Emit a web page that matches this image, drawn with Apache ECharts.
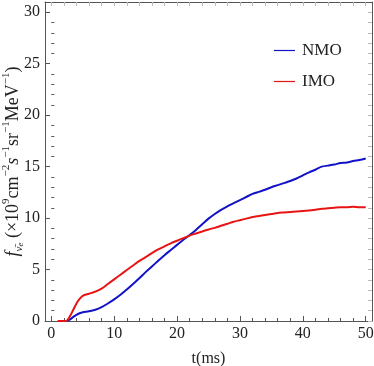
<!DOCTYPE html>
<html>
<head>
<meta charset="utf-8">
<script src="https://cdn.jsdelivr.net/npm/echarts@6/dist/echarts.min.js"></script>
<style>html,body{margin:0;padding:0;background:#fff}#c{width:374px;height:366px}</style>
</head>
<body>
<div id="c"></div>
<script>
var tVals = [1,2,2.5,3,3.5,4,4.5,5,6,7,8,9,10,11,12,13,14,15,16,17,18,19,20,21,22,23,24,25,26,27,28,29,30,31,32,33,34,35,36,37,38,39,40,41,42,43,44,45,46,47,48,49,50];
var nmo = [null,null,0,0.15,0.4,0.6,0.75,0.85,0.95,1.1,1.35,1.7,2.1,2.55,3.05,3.6,4.15,4.75,5.3,5.85,6.4,6.9,7.4,7.9,8.35,8.85,9.4,9.95,10.4,10.8,11.15,11.45,11.75,12.05,12.35,12.55,12.75,13.0,13.2,13.4,13.6,13.85,14.15,14.45,14.7,15.0,15.1,15.2,15.35,15.4,15.55,15.65,15.8];
var imo = [0,0,0.05,0.5,1.1,1.7,2.15,2.45,2.65,2.85,3.15,3.6,4.05,4.5,4.95,5.4,5.85,6.2,6.6,6.95,7.25,7.55,7.8,8.05,8.3,8.5,8.7,8.9,9.05,9.25,9.45,9.65,9.8,9.95,10.1,10.2,10.3,10.4,10.5,10.55,10.6,10.65,10.7,10.75,10.8,10.9,10.95,11.0,11.05,11.05,11.1,11.05,11.05];
var xMajor = [0,10,20,30,40,50];
var xMinor = [2,4,6,8,12,14,16,18,22,24,26,28,32,34,36,38,42,44,46,48];
var yMajor = [0,5,10,15,20,25,30];
var yMinor = [1,2,3,4,6,7,8,9,11,12,13,14,16,17,18,19,21,22,23,24,26,27,28,29];
var seriesNames = ['NMO','IMO'];

var FONT = 'Liberation Serif';
var frame = '#555';
var faint = '#bbb';
function pairs(x, y){ var o=[]; for (var i=0;i<x.length;i++){ if (y[i]!==null) o.push([x[i],y[i]]); } return o; }

function xAx(opts){
  return Object.assign({type:'value',min:-1,max:51,splitLine:{show:false},
    axisLine:{show:false},axisLabel:{show:false},axisTick:{show:false}}, opts);
}
function yAx(opts){
  return Object.assign({type:'value',min:0,max:31,splitLine:{show:false},
    axisLine:{show:false},axisLabel:{show:false},axisTick:{show:false}}, opts);
}
var chart = echarts.init(document.getElementById('c'));
chart.setOption({
  animation:false,
  backgroundColor:'#fff',
  grid:{left:45,right:2,top:2,bottom:45,containLabel:false,outerBoundsMode:'none'},
  xAxis:[
    xAx({position:'bottom',axisLine:{show:true,onZero:false,lineStyle:{color:frame,width:1}},
      axisTick:{show:true,inside:true,length:5,customValues:xMajor,lineStyle:{color:frame}},
      axisLabel:{show:true,customValues:xMajor,color:'#222',fontFamily:FONT,fontSize:16,margin:5},
      name:'t(ms)',nameLocation:'middle',nameGap:30,nameMoveOverlap:false,nameTextStyle:{color:'#222',fontFamily:FONT,fontSize:16}}),
    xAx({position:'bottom',axisTick:{show:true,inside:true,length:3,customValues:xMinor,lineStyle:{color:frame}}}),
    xAx({position:'top',axisLine:{show:true,onZero:false,lineStyle:{color:frame,width:1}},
      axisTick:{show:true,inside:true,length:4,customValues:xMajor.concat(xMinor),lineStyle:{color:faint}}})
  ],
  yAxis:[
    yAx({position:'left',axisLine:{show:true,onZero:false,lineStyle:{color:frame,width:1}},
      axisTick:{show:true,inside:true,length:5,customValues:yMajor,lineStyle:{color:frame}},
      axisLabel:{show:true,customValues:yMajor,color:'#222',fontFamily:FONT,fontSize:16,margin:5},
      name:'{i|f}{sub|ν̄}{sub2|e} (×10{sup|9}cm{sup|−2}{i|s}{sup|−1}sr{sup|−1}MeV{sup|−1})',
      nameLocation:'middle',nameGap:20,nameRotate:90,nameMoveOverlap:false,
      nameTextStyle:{color:'#222',fontFamily:FONT,fontSize:18,lineHeight:24,
        rich:{
          i:{fontFamily:FONT,fontStyle:'italic',fontSize:18,color:'#222'},
          sub:{fontFamily:FONT,fontStyle:'italic',fontSize:11,color:'#222',verticalAlign:'bottom',lineHeight:24},
          sub2:{fontFamily:FONT,fontStyle:'italic',fontSize:9,color:'#222',verticalAlign:'bottom',lineHeight:22},
          sup:{fontFamily:FONT,fontSize:11,color:'#222',verticalAlign:'top',lineHeight:24}
        }}}),
    yAx({position:'left',axisTick:{show:true,inside:true,length:3,customValues:yMinor,lineStyle:{color:frame}}}),
    yAx({position:'right',axisLine:{show:true,onZero:false,lineStyle:{color:frame,width:1}},
      axisTick:{show:true,inside:true,length:4,customValues:yMajor.concat(yMinor),lineStyle:{color:faint}}})
  ],
  legend:{
    data:seriesNames,orient:'vertical',left:269,top:37,itemGap:14,itemWidth:21,itemHeight:20,
    icon:'path://M0,9.4L21,9.4L21,10.6L0,10.6Z',
    textStyle:{fontFamily:FONT,fontSize:17,color:'#222',padding:[0,0,0,2]}
  },
  series:[
    {name:seriesNames[0],type:'line',data:pairs(tVals,nmo),showSymbol:false,smooth:0.3,
      lineStyle:{color:'#1212c8',width:2},itemStyle:{color:'#1212c8'}},
    {name:seriesNames[1],type:'line',data:pairs(tVals,imo),showSymbol:false,smooth:0.3,
      lineStyle:{color:'#e81414',width:2},itemStyle:{color:'#e81414'}}
  ]
});
</script>
</body>
</html>
